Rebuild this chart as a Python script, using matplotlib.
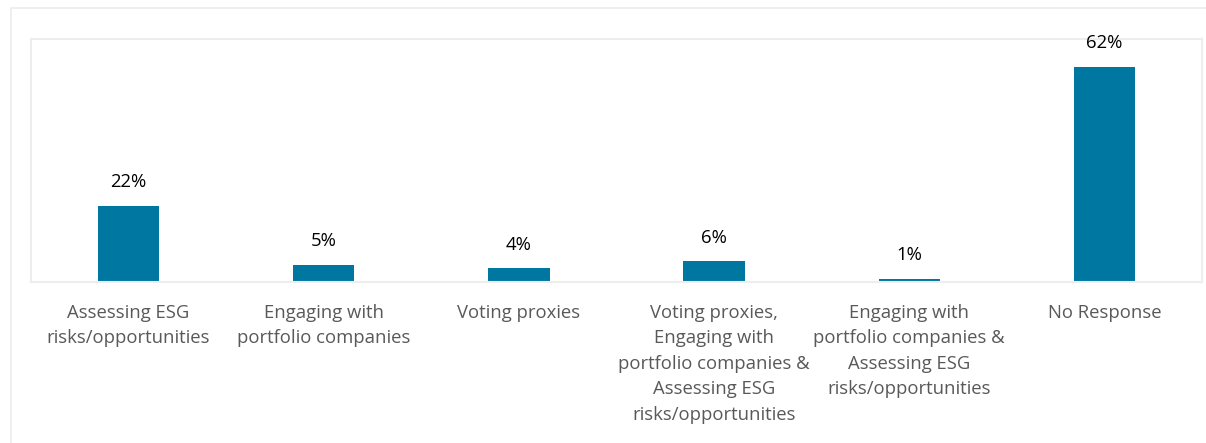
import matplotlib.pyplot as plt
from matplotlib.patches import Rectangle

categories = [
    "Assessing ESG\nrisks/opportunities",
    "Engaging with\nportfolio companies",
    "Voting proxies",
    "Voting proxies,\nEngaging with\nportfolio companies &\nAssessing ESG\nrisks/opportunities",
    "Engaging with\nportfolio companies &\nAssessing ESG\nrisks/opportunities",
    "No Response",
]
values = [22, 5, 4, 6, 1, 62]

W, H = 1206, 443
fig = plt.figure(figsize=(W / 100, H / 100), dpi=100)
fig.patch.set_facecolor("white")

# outer chart frame (left and top edges visible)
fig.add_artist(Rectangle((11 / W, -0.1), 1.2, 1 - 8 / H + 0.1,
                         transform=fig.transFigure, fill=False,
                         edgecolor="#ececec", linewidth=1.2))

left, right, top, bottom = 31, 1202, 39, 282
ax = fig.add_axes([left / W, 1 - bottom / H, (right - left) / W, (bottom - top) / H])

x = list(range(len(categories)))
bars = ax.bar(x, values, width=0.315, color="#0077A1", zorder=2)

ax.set_xlim(-0.5, len(categories) - 0.5)
ax.set_ylim(0, 70)
ax.set_yticks([])
ax.set_xticks(x)
ax.set_xticklabels(categories, fontsize=13.3, color="#595959", family="Open Sans",
                   linespacing=1.54, va="top")
ax.tick_params(axis="x", length=0, pad=15.5)

for s in ax.spines.values():
    s.set_color("#ededed")
    s.set_linewidth(1.5)

for b, v in zip(bars, values):
    ax.annotate(f"{v}%", (b.get_x() + b.get_width() / 2, v),
                xytext=(0, 17), textcoords="offset points",
                ha="center", va="center", fontsize=13.3, color="black",
                family="Open Sans")

fig.savefig("out.png", dpi=100)
